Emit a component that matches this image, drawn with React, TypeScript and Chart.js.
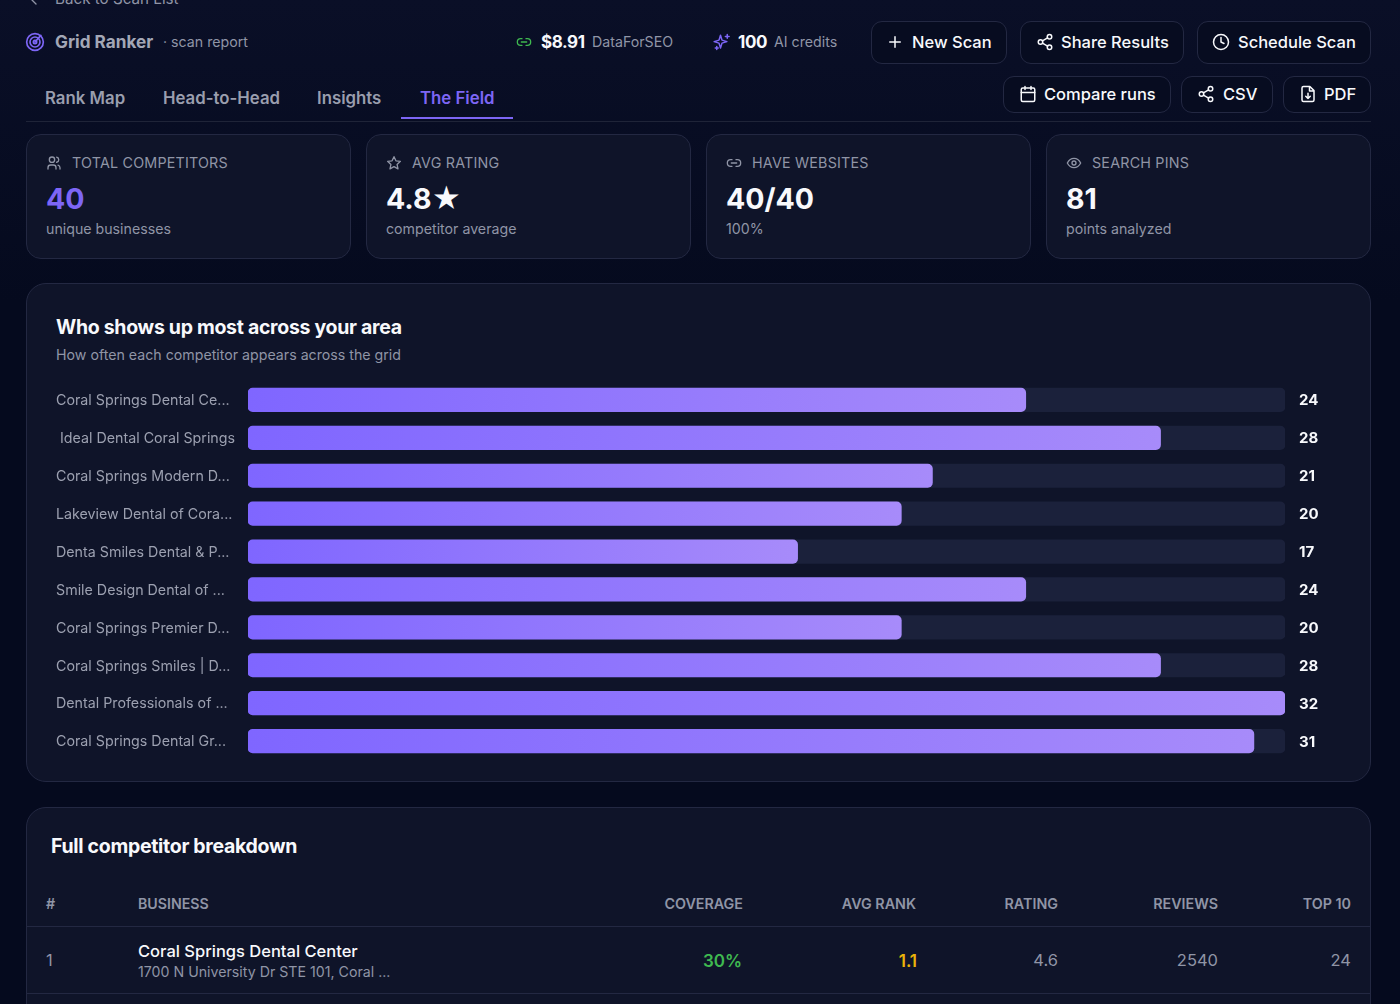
import { useEffect, useRef } from "react";
import type { CSSProperties, ReactNode } from "react";
import { Chart, registerables } from "chart.js";

Chart.register(...registerables);

const competitors = [
  "Coral Springs Dental Ce...",
  " Ideal Dental Coral Springs",
  "Coral Springs Modern D...",
  "Lakeview Dental of Cora...",
  "Denta Smiles Dental & P...",
  "Smile Design Dental of ...",
  "Coral Springs Premier D...",
  "Coral Springs Smiles | D...",
  "Dental Professionals of ...",
  "Coral Springs Dental Gr...",
];
const appearances = ["24", "28", "21", "20", "17", "24", "20", "28", "32", "31"];
// bar lengths as percent of the busiest competitor
const sharePercent = [75, 88, 66, 63, 53, 75, 63, 88, 100, 97];
const trackPercent = [100, 100, 100, 100, 100, 100, 100, 100, 100, 100];

const stats = [
  { icon: "users", label: "TOTAL COMPETITORS", value: "40", sub: "unique businesses", accent: true },
  { icon: "star", label: "AVG RATING", value: "4.8★", sub: "competitor average", accent: false },
  { icon: "link", label: "HAVE WEBSITES", value: "40/40", sub: "100%", accent: false },
  { icon: "eye", label: "SEARCH PINS", value: "81", sub: "points analyzed", accent: false },
];
const tabs = [
  ["Rank Map", 45],
  ["Head-to-Head", 163],
  ["Insights", 317],
  ["The Field", 420],
] as const;

const WHITE = "#f8f9fc";
const MUTED = "#9095a6";
const BORDER = "#232842";
const CARD = "#0f1429";
const PURPLE = "#7d66f6";

const icons: Record<string, ReactNode> = {
  users: (<><circle cx="9" cy="7" r="4" /><path d="M3 21v-2a4 4 0 0 1 4-4h4a4 4 0 0 1 4 4v2M16 3.1a4 4 0 0 1 0 7.8M21 21v-2a4 4 0 0 0-3-3.9" /></>),
  star: <path d="M12 2.5l2.9 6.2 6.7.8-5 4.6 1.4 6.7-6-3.4-6 3.4 1.4-6.7-5-4.6 6.7-.8z" />,
  link: <path d="M9 17H7A5 5 0 0 1 7 7h2M15 7h2a5 5 0 0 1 0 10h-2M8 12h8" />,
  eye: (<><path d="M2 12s3.6-7 10-7 10 7 10 7-3.6 7-10 7-10-7-10-7z" /><circle cx="12" cy="12" r="3" /></>),
  plus: <path d="M5 12h14M12 5v14" />,
  share: (<><circle cx="18" cy="5" r="3" /><circle cx="6" cy="12" r="3" /><circle cx="18" cy="19" r="3" /><path d="M8.6 13.5l6.8 4M15.4 6.5l-6.8 4" /></>),
  clock: (<><circle cx="12" cy="12" r="10" /><path d="M12 6v6l4 2" /></>),
  calendar: (<><rect x="3" y="4" width="18" height="18" rx="2" /><path d="M16 2v4M8 2v4M3 10h18" /></>),
  file: <path d="M14.5 2H6a2 2 0 0 0-2 2v16a2 2 0 0 0 2 2h12a2 2 0 0 0 2-2V7.5zM14 2v6h6M12 11v7M9 15l3 3 3-3" />,
  sparkles: <path d="M10 3l2 6.5 6.5 2-6.5 2-2 6.5-2-6.5-6.5-2 6.5-2zM19 2v5M16.5 4.5h5M5 18v4M3 20h4" />,
  target: (<><circle cx="12" cy="12" r="10" /><circle cx="12" cy="12" r="6" /><circle cx="12" cy="12" r="2" /><path d="M12 12l7-8" /></>),
  back: <path d="M15 18l-6-6 6-6" />,
};

function Icon({ name, x, y, size, color }: { name: string; x: number; y: number; size: number; color: string }) {
  return (
    <svg
      viewBox="0 0 24 24"
      width={size}
      height={size}
      fill="none"
      stroke={color}
      strokeWidth={2}
      strokeLinecap="round"
      strokeLinejoin="round"
      style={{ position: "absolute", left: x - size / 2, top: y - size / 2 }}
    >
      {icons[name]}
    </svg>
  );
}

// text placed by its vertical centre, anchored left or right
function T(props: { x?: number; right?: number; y: number; size: number; weight?: number; color?: string; spacing?: number; children: ReactNode }) {
  const { x, right, y, size, weight = 400, color = MUTED, spacing = 0, children } = props;
  const style: CSSProperties = {
    position: "absolute",
    top: y,
    transform: "translateY(-50%)",
    fontSize: size,
    fontWeight: weight,
    color,
    letterSpacing: spacing,
    whiteSpace: "nowrap",
    lineHeight: 1.2,
  };
  if (right !== undefined) style.right = 1400 - right;
  else style.left = x;
  return <div style={style}>{children}</div>;
}

function Box({ x, y, w, h, r, bg, children }: { x: number; y: number; w: number; h: number; r: number; bg: string; children?: ReactNode }) {
  return (
    <div
      style={{
        position: "absolute",
        left: x,
        top: y,
        width: w,
        height: h,
        borderRadius: r,
        background: bg,
        border: `1px solid ${BORDER}`,
        boxSizing: "border-box",
      }}
    >
      {children}
    </div>
  );
}

function Button({ x, y, w, h, icon, iconX, textX, label }: { x: number; y: number; w: number; h: number; icon: string; iconX: number; textX: number; label: string }) {
  const mid = y + h / 2 - 0.5;
  return (
    <>
      <Box x={x} y={y} w={w} h={h} r={11} bg="#070c20" />
      <Icon name={icon} x={iconX} y={mid} size={18} color={WHITE} />
      <T x={textX} y={mid + 0.5} size={16.5} weight={500} color={WHITE}>{label}</T>
    </>
  );
}

function FieldChart() {
  const canvasRef = useRef<HTMLCanvasElement>(null);

  useEffect(() => {
    if (!canvasRef.current) return;

    const chart = new Chart(canvasRef.current, {
      type: "bar",
      data: {
        labels: competitors,
        datasets: [
          {
            label: "Coverage",
            data: sharePercent,
            grouped: false,
            barThickness: 23.5,
            borderRadius: 5,
            borderSkipped: false,
            backgroundColor: (ctx: any) => {
              const x = ctx.chart.scales.x;
              const value = ctx.raw;
              if (!x || typeof value !== "number") return "#8b72ff";
              const start = x.getPixelForValue(0);
              const end = x.getPixelForValue(value);
              // scale has no pixels yet on the very first option pass
              if (!Number.isFinite(start) || !Number.isFinite(end)) return "#8b72ff";
              const g = ctx.chart.ctx.createLinearGradient(start, 0, end, 0);
              g.addColorStop(0, "#7f66ff");
              g.addColorStop(1, "#a78bfa");
              return g;
            },
          },
          {
            label: "Track",
            data: trackPercent,
            grouped: false,
            barThickness: 23.5,
            borderRadius: 5,
            borderSkipped: false,
            backgroundColor: "#1b213b",
          },
        ],
      },
      options: {
        indexAxis: "y",
        animation: false,
        responsive: false,
        layout: { padding: 0 },
        plugins: { legend: { display: false }, tooltip: { enabled: false } },
        scales: {
          x: { display: false, min: 0, max: 100 },
          y: {
            grid: { display: false, drawTicks: false },
            border: { display: false },
            afterFit: (scale: any) => {
              scale.width = 192;
              scale.paddingTop = 0;
              scale.paddingBottom = 0;
            },
            ticks: {
              crossAlign: "far",
              padding: 0,
              labelOffset: 1,
              autoSkip: false,
              color: "#9ca0b0",
              font: { family: "Inter", size: 14.25 },
            },
          },
          counts: {
            type: "category",
            position: "right",
            offset: true,
            labels: appearances,
            grid: { display: false, drawTicks: false },
            border: { display: false },
            afterFit: (scale: any) => {
              scale.width = 55;
              // tick padding would otherwise squeeze the rows vertically
              scale.paddingTop = 0;
              scale.paddingBottom = 0;
            },
            ticks: {
              padding: 14,
              labelOffset: 1,
              autoSkip: false,
              color: WHITE,
              font: { family: "Inter", size: 15, weight: 700 },
            },
          },
        },
      } as any,
    });

    return () => {
      chart.destroy();
    };
  }, []);

  return <canvas ref={canvasRef} width={1284} height={379} style={{ position: "absolute", left: 56, top: 381, width: 1284, height: 379 }} />;
}

export default function App() {
  useEffect(() => {
    document.body.style.margin = "0";
    document.body.style.overflow = "hidden";
  }, []);

  return (
    <div
      style={{
        position: "relative",
        width: 1400,
        height: 1004,
        overflow: "hidden",
        background: "linear-gradient(180deg, #0a0f27 0%, #050a1e 30%, #050a1e 100%)",
        fontFamily: "Inter, sans-serif",
      }}
    >
      <Icon name="back" x={34} y={0} size={16} color={MUTED} />
      <T x={55} y={-1} size={15.2} color={MUTED}>Back to Scan List</T>

      <Icon name="target" x={35} y={42} size={20} color={PURPLE} />
      <T x={55} y={42} size={17.2} weight={700} color="#a3a7b6">Grid Ranker</T>
      <T x={163} y={42} size={14.2}>· scan report</T>

      <Icon name="link" x={524} y={42} size={16} color="#3fb950" />
      <T x={541} y={42} size={17} weight={700} color={WHITE} spacing={-0.4}>$8.91</T>
      <T x={592} y={42} size={14.2}>DataForSEO</T>
      <Icon name="sparkles" x={722} y={42} size={18} color={PURPLE} />
      <T x={738} y={42} size={17} weight={700} color={WHITE} spacing={-0.4}>100</T>
      <T x={774} y={42} size={14.2}>AI credits</T>

      <Button x={871} y={21} w={136} h={43} icon="plus" iconX={895} textX={912} label="New Scan" />
      <Button x={1020} y={21} w={164} h={43} icon="share" iconX={1045} textX={1061} label="Share Results" />
      <Button x={1197} y={21} w={174} h={43} icon="clock" iconX={1221} textX={1238} label="Schedule Scan" />
      <Button x={1003} y={76} w={168} h={37} icon="calendar" iconX={1028} textX={1044} label="Compare runs" />
      <Button x={1181} y={76} w={92} h={37} icon="share" iconX={1206} textX={1223} label="CSV" />
      <Button x={1283} y={76} w={88} h={37} icon="file" iconX={1308} textX={1324} label="PDF" />

      {tabs.map(([label, x]) => (
        <T key={label} x={x} y={98} size={16.8} weight={600} color={label === "The Field" ? PURPLE : "#9a9eae"}>{label}</T>
      ))}
      <div style={{ position: "absolute", left: 26, top: 121, width: 1345, height: 1, background: "#1f2438" }} />
      <div style={{ position: "absolute", left: 401, top: 117, width: 112, height: 2, background: PURPLE }} />

      {stats.map((s, i) => {
        const left = 26 + i * 340;
        return (
          <div key={s.label}>
            <Box x={left} y={134} w={325} h={125} r={15} bg={CARD} />
            <Icon name={s.icon} x={left + 28} y={163} size={16} color={MUTED} />
            <T x={left + 46} y={163} size={14.3} spacing={0.2}>{s.label}</T>
            <T x={left + 20} y={198.5} size={28.5} weight={700} color={s.accent ? PURPLE : WHITE}>{s.value}</T>
            <T x={left + 20} y={229} size={14.2}>{s.sub}</T>
          </div>
        );
      })}

      <Box x={26} y={283} w={1345} h={499} r={20} bg={CARD} />
      <T x={56} y={328} size={19.5} weight={700} color={WHITE} spacing={-0.3}>Who shows up most across your area</T>
      <T x={56} y={355} size={14.2}>How often each competitor appears across the grid</T>
      <FieldChart />

      <Box x={26} y={807} w={1345} h={240} r={20} bg={CARD} />
      <T x={51} y={847} size={19.5} weight={700} color={WHITE} spacing={-0.3}>Full competitor breakdown</T>
      <T x={46} y={904} size={14.2} weight={600}>#</T>
      <T x={138} y={904} size={14.2} weight={600}>BUSINESS</T>
      <T right={743} y={904} size={14.3} weight={600}>COVERAGE</T>
      <T right={916} y={904} size={14.3} weight={600}>AVG RANK</T>
      <T right={1058} y={904} size={14.3} weight={600}>RATING</T>
      <T right={1218} y={904} size={14.3} weight={600}>REVIEWS</T>
      <T right={1351} y={904} size={14.3} weight={600}>TOP 10</T>
      <div style={{ position: "absolute", left: 27, top: 926, width: 1343, height: 1, background: BORDER }} />
      <T x={46} y={961} size={16.5}>1</T>
      <T x={138} y={952} size={16.5} weight={500} color={WHITE}>Coral Springs Dental Center</T>
      <T x={138} y={972} size={14.2}>1700 N University Dr STE 101, Coral ...</T>
      <T right={742} y={961} size={17} weight={600} color="#3fb950">30%</T>
      <T right={917} y={961} size={17} weight={600} color="#eab308">1.1</T>
      <T right={1058} y={961} size={16.5}>4.6</T>
      <T right={1218} y={961} size={16.5}>2540</T>
      <T right={1351} y={961} size={16.5}>24</T>
      <div style={{ position: "absolute", left: 27, top: 993, width: 1343, height: 1, background: BORDER }} />
    </div>
  );
}
